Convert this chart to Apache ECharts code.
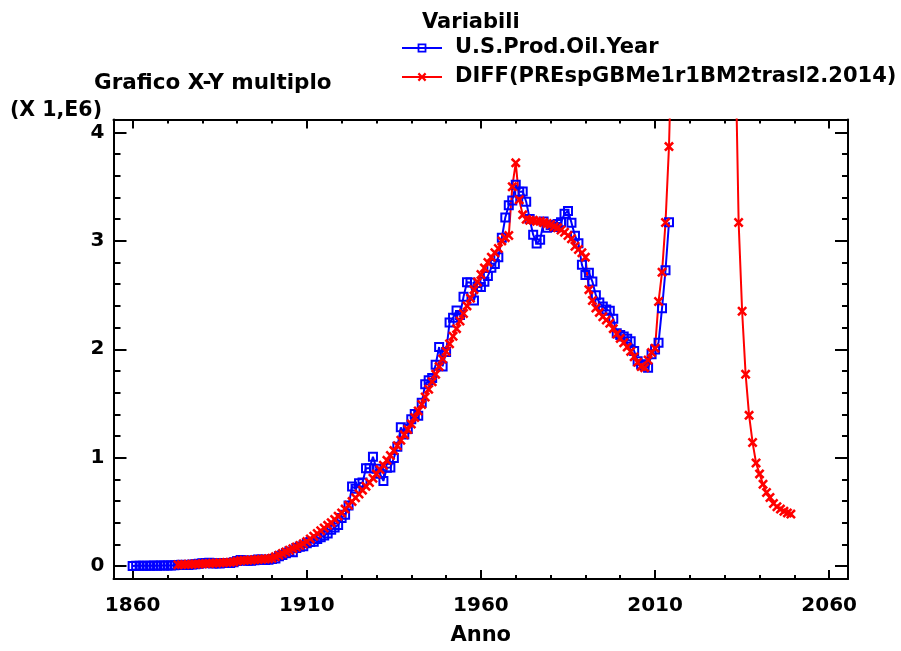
<!DOCTYPE html>
<html><head><meta charset="utf-8">
<script src="https://cdn.jsdelivr.net/npm/echarts@6/dist/echarts.min.js"></script>
<style>html,body{margin:0;padding:0;background:#fff}#c{width:901px;height:651px}</style>
</head><body><div id="c"></div>
<script>
// ---- data (values in units of 1,E6) ----
const blueName = 'U.S.Prod.Oil.Year';
const redName = 'DIFF(PREspGBMe1r1BM2trasl2.2014)';
const blueStartYear = 1860;
const blueValues = [
0.0005,0.0021,0.0031,0.0026,0.0021,0.0025,0.0036,0.0033,0.0036,0.0042,
0.0053,0.0052,0.0063,0.0099,0.0109,0.0088,0.0091,0.0134,0.0154,0.0199,
0.0263,0.0277,0.0303,0.0234,0.0242,0.0219,0.0281,0.0283,0.0276,0.0352,
0.0458,0.0543,0.0505,0.0484,0.0493,0.0529,0.0609,0.0605,0.0554,0.0571,
0.0636,0.0694,0.0888,0.1005,0.1171,0.1347,0.1265,0.1661,0.1785,0.1832,
0.2096,0.2204,0.2229,0.2484,0.2658,0.2811,0.3008,0.3353,0.3559,0.3784,
0.4429,0.4722,0.5575,0.7324,0.7139,0.7637,0.7709,0.9011,0.9015,1.0073,
0.8980,0.8511,0.7852,0.9057,0.9081,0.9966,1.0997,1.2792,1.2144,1.2649,
1.3532,1.4022,1.3866,1.5056,1.6779,1.7137,1.7339,1.8569,2.0202,1.8419,
1.9736,2.2477,2.2898,2.3571,2.3150,2.4844,2.6173,2.6169,2.4489,2.5746,
2.5749,2.6218,2.6762,2.7527,2.7868,2.8485,3.0278,3.2157,3.3290,3.3718,
3.5175,3.4539,3.4554,3.3609,3.2026,3.0568,2.9762,3.0093,3.1782,3.1213,
3.1464,3.1286,3.1567,3.1709,3.2497,3.2746,3.1683,3.0474,2.9791,2.7788,
2.6847,2.7070,2.6246,2.4990,2.4315,2.3943,2.3660,2.3548,2.2819,2.1467,
2.1307,2.1175,2.0971,2.0735,1.9833,1.8901,1.8623,1.8485,1.8300,1.9535,
1.9981,2.0606,2.3775,2.7287,3.1716
];
const redStartYear = 1873;
const redValues = [
// 1873-1899
0.012,0.013,0.014,0.015,0.016,0.018,0.019,0.021,0.022,0.024,
0.025,0.027,0.029,0.031,0.033,0.035,0.037,0.045,0.050,0.052,
0.054,0.056,0.058,0.060,0.062,0.064,0.067,
// 1900-1949
0.072,0.085,0.100,0.115,0.130,0.145,0.160,0.175,0.190,0.205,
0.225,0.250,0.275,0.300,0.325,0.350,0.375,0.400,0.430,0.460,
0.490,0.525,0.560,0.595,0.630,0.665,0.700,0.735,0.770,0.810,
0.850,0.890,0.930,0.975,1.020,1.065,1.110,1.160,1.210,1.260,
1.310,1.370,1.430,1.490,1.560,1.630,1.700,1.770,1.840,1.910,
// 1950-1999
1.980,2.050,2.120,2.190,2.260,2.330,2.400,2.470,2.550,2.620,
2.690,2.750,2.800,2.850,2.890,2.930,3.000,3.030,3.050,3.500,
3.720,3.380,3.240,3.200,3.190,3.190,3.180,3.180,3.170,3.160,
3.150,3.130,3.120,3.100,3.080,3.050,3.020,2.950,2.920,2.890,
2.850,2.550,2.450,2.380,2.340,2.300,2.270,2.240,2.190,2.140,
// 2000-2015
2.100,2.060,2.020,1.980,1.930,1.880,1.840,1.830,1.900,1.970,
2.010,2.440,2.710,3.170,3.870,
// 2016-2034 (off the chart, above the frame)
5.1,6.6,8.6,11.5,16,23,35,60,120,250,120,60,35,22,14.5,10,7.8,6.1,4.9,
// 2035-2050
3.170,2.350,1.770,1.390,1.140,0.950,0.850,0.754,0.678,0.632,
0.577,0.547,0.525,0.505,0.490,0.479
];
const xMajorTicks = [1860,1910,1960,2010,2060];
const xMinorTicks = [1870,1880,1890,1900,1920,1930,1940,1950,1970,1980,1990,2000,2020,2030,2040,2050];
const yMajorTicks = [0,1,2,3,4];
const yMinorTicks = [0.2,0.4,0.6,0.8,1.2,1.4,1.6,1.8,2.2,2.4,2.6,2.8,3.2,3.4,3.6,3.8];
const xRange = [1854.5, 2065.4];
const yRange = [-0.12, 4.12];

// ---- build ----
const blueData = blueValues.map((v,i)=>[blueStartYear+i, v]);
const redData = redValues.map((v,i)=>[redStartYear+i, v]);

const FONT = 'DejaVu Sans';
const txt = (fs)=>({fontFamily:FONT, fontWeight:'bold', fontSize:fs, color:'#000'});
const SQUARE = 'path://M0,0H10V10H0ZM2,2V8H8V2Z';
const CROSS = 'path://M0,1.8L1.8,0L5,3.2L8.2,0L10,1.8L6.8,5L10,8.2L8.2,10L5,6.8L1.8,10L0,8.2L3.2,5Z';
const plain = v => String(v);

function xAx(pos, vals, len, showLine, label){
  return {type:'value', position:pos, min:xRange[0], max:xRange[1], gridIndex:0,
    axisLine:{show:showLine, onZero:false, lineStyle:{color:'#000', width:2}},
    axisTick:{show:true, inside:true, length:len, customValues:vals, lineStyle:{color:'#000', width:2}},
    axisLabel: label ? Object.assign({show:true, customValues:vals, margin:17, formatter:plain}, txt(20)) : {show:false, customValues:vals},
    splitLine:{show:false}};
}
function yAx(pos, vals, len, showLine, label){
  return {type:'value', position:pos, min:yRange[0], max:yRange[1], gridIndex:0,
    axisLine:{show:showLine, onZero:false, lineStyle:{color:'#000', width:2}},
    axisTick:{show:true, inside:true, length:len, customValues:vals, lineStyle:{color:'#000', width:2}},
    axisLabel: label ? Object.assign({show:true, customValues:vals, margin:9, padding:[0,0,6,0], formatter:plain}, txt(20)) : {show:false, customValues:vals},
    splitLine:{show:false}};
}
const xAxes = [xAx('bottom', xMajorTicks, 9, true, true), xAx('bottom', xMinorTicks, 4, false, false),
               xAx('top', xMajorTicks, 9, true, false), xAx('top', xMinorTicks, 4, false, false)];
xAxes[0].name = 'Anno'; xAxes[0].nameLocation = 'middle'; xAxes[0].nameGap = 46;
xAxes[0].nameTextStyle = txt(21);
const yAxes = [yAx('left', yMajorTicks, 13, true, true), yAx('left', yMinorTicks, 7, false, false),
               yAx('right', yMajorTicks, 13, true, false), yAx('right', yMinorTicks, 6, false, false)];

const chart = echarts.init(document.getElementById('c'), null, {renderer:'canvas'});
chart.setOption({
  animation:false,
  backgroundColor:'#fff',
  title:[
    {text:'Variabili', left:422, top:12, padding:0, textStyle:txt(21)},
    {text:'Grafico X-Y multiplo', left:94, top:72, padding:0, textStyle:txt(21.5)},
    {text:'(X 1,E6)', left:10, top:100, padding:0, textStyle:txt(20.5)}
  ],
  legend:{orient:'vertical', left:401, top:37, padding:0, itemWidth:40, itemHeight:11, itemGap:7,
    textStyle:Object.assign({padding:[0,0,0,8], lineHeight:22}, txt(21)),
    data:[blueName, redName]},
  grid:{left:113.5, right:53, top:119.5, bottom:69, containLabel:false},
  xAxis:xAxes,
  yAxis:yAxes,
  series:[
    {name:blueName, type:'line', data:blueData, xAxisIndex:0, yAxisIndex:0,
     symbol:SQUARE, symbolSize:10, showAllSymbol:true, clip:true,
     itemStyle:{color:'#0000ff'}, lineStyle:{color:'#0000ff', width:2}},
    {name:redName, type:'line', data:redData, xAxisIndex:0, yAxisIndex:0,
     symbol:CROSS, symbolSize:10, showAllSymbol:true, clip:true,
     itemStyle:{color:'#ff0000'}, lineStyle:{color:'#ff0000', width:2}}
  ]
});
</script></body></html>
